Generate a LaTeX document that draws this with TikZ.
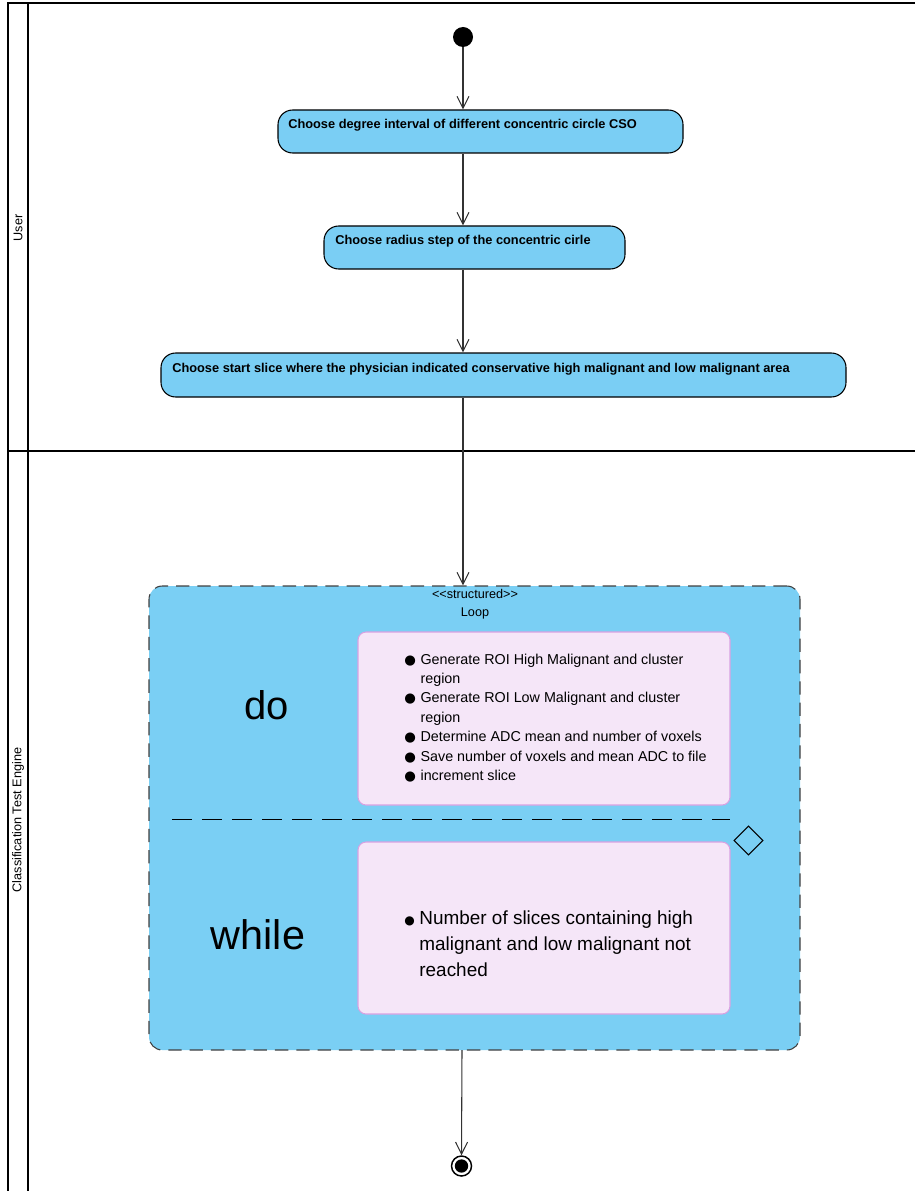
\documentclass[tikz,border=0pt]{standalone}
\usepackage{fontspec}
\setmainfont{Liberation Sans}
\newfontfamily\dejavu{DejaVu Sans}
\usetikzlibrary{arrows.meta,shapes.geometric}
\definecolor{actblue}{RGB}{122,206,244}
\definecolor{loopblue}{RGB}{122,207,244}
\definecolor{pinkfill}{RGB}{245,230,248}
\definecolor{pinkline}{RGB}{216,162,226}
\definecolor{connc}{RGB}{50,50,50}
\newcommand{\bul}{{\dejavu\fontsize{10}{10}\selectfont ●}}
\tikzset{
  lane/.style={line width=1.6pt,black},
  arr/.style={draw=connc,line width=0.8pt,-{Straight Barb[length=9pt,width=9pt,line width=0.8pt]}},
  action/.style={draw=black,fill=actblue,line width=0.8pt,rounded corners=11pt,inner sep=0pt},
  acttext/.style={anchor=west,inner sep=0pt,font=\fontsize{9.6}{11}\selectfont\bfseries},
  inner/.style={draw=pinkline,fill=pinkfill,line width=0.8pt,rounded corners=6pt,inner sep=0pt,minimum width=279pt},
  lanelabel/.style={rotate=90,inner sep=0pt,font=\fontsize{9.5}{11}\selectfont},
}
\begin{document}
\begin{tikzpicture}[x=0.75pt,y=-0.75pt]
\useasboundingbox (0,0) rectangle (915,1191);
% swimlanes
\draw[lane] (8,1195) -- (8,3) -- (915,3);
\draw[lane] (28,3) -- (28,1195);
\draw[lane] (8,451) -- (915,451);
\node[lanelabel] (luser) at (18,228) {User};
\node[lanelabel] (lcte) at (18,820) {Classification Test Engine};
% start
\node[circle,fill=black,minimum size=15pt,inner sep=0pt] (start) at (463,37) {};
% actions
\node[action,minimum width=303.75pt,minimum height=32.25pt] (b1) at (480.5,131.5) {};
\node[acttext] (b1t) at (288,125.5) {Choose degree interval of different concentric circle CSO};
\node[action,minimum width=225.75pt,minimum height=32.25pt] (b2) at (474.5,247.5) {};
\node[acttext] (b2t) at (335,241.5) {Choose radius step of the concentric cirle};
\node[action,minimum width=513.75pt,minimum height=33pt] (b3) at (503.5,375) {};
\node[acttext] (b3t) at (172,369.5) {Choose start slice where the physician indicated conservative high malignant and low malignant area};
% loop
\node[draw=black!75,fill=loopblue,line width=0.8pt,dash pattern=on 10pt off 6pt,rounded corners=10pt,
      minimum width=488.25pt,minimum height=348pt,inner sep=0pt] (loop) at (474.5,818) {};
\node[align=center,inner sep=0pt,font=\fontsize{9.5}{13.5}\selectfont] (looptitle) at (475,604) {\textless\kern0pt\textless\kern0pt structured\kern0pt\textgreater\kern0pt\textgreater\\Loop};
\node[inner,minimum height=129.75pt] (do) at (544,718.5) {};
\node[inner,minimum height=129pt] (wh) at (544,928) {};
\draw[black,line width=0.7pt,dash pattern=on 15pt off 7.5pt] (172,819) coordinate (sepa) -- (730,819) coordinate (sepb);
\node[diamond,draw=black,line width=0.8pt,fill=loopblue,minimum size=21.75pt,inner sep=0pt] (dia) at (748.5,840.5) {};
\node[inner sep=0pt,font=\fontsize{30}{36}\selectfont] (dolab) at (267,705) {do};
\node[inner sep=0pt,font=\fontsize{31}{37}\selectfont] (whlab) at (258,935) {while};
\node[anchor=west,inner sep=0pt,font=\fontsize{10.75}{14.6}\selectfont] (dotext) at (404,718.5) {%
\begin{tabular}{@{}l@{\hspace{3.5pt}}l@{}}
\bul & Generate ROI High Malignant and cluster\\
 & region\\
\bul & Generate ROI Low Malignant and cluster\\
 & region\\
\bul & Determine ADC mean and number of voxels\\
\bul & Save number of voxels and mean ADC to file\\
\bul & increment slice
\end{tabular}};
\node[anchor=west,inner sep=0pt,font=\fontsize{14.2}{19.5}\selectfont] (whtext) at (404,945) {%
\begin{tabular}{@{}l@{\hspace{3.5pt}}l@{}}
{\dejavu\fontsize{9}{9}\selectfont ●} & Number of slices containing high\\
 & malignant and low malignant not\\
 & reached
\end{tabular}};
% final
\node[circle,draw=black,line width=1.1pt,fill=white,minimum size=15pt,inner sep=0pt] (final) at (461.5,1166) {};
\node[circle,fill=black,minimum size=10pt,inner sep=0pt] (finalin) at (461.5,1166) {};
% connectors
\draw[arr] (start) -- (start |- b1.north);
\draw[arr] (start |- b1.south) -- (start |- b2.north);
\draw[arr] (start |- b2.south) -- (start |- b3.north);
\draw[arr] (start |- b3.south) -- (start |- loop.north);
\draw[arr] (462,1050) coordinate (loopout) -- (final.north);
\end{tikzpicture}
\end{document}
